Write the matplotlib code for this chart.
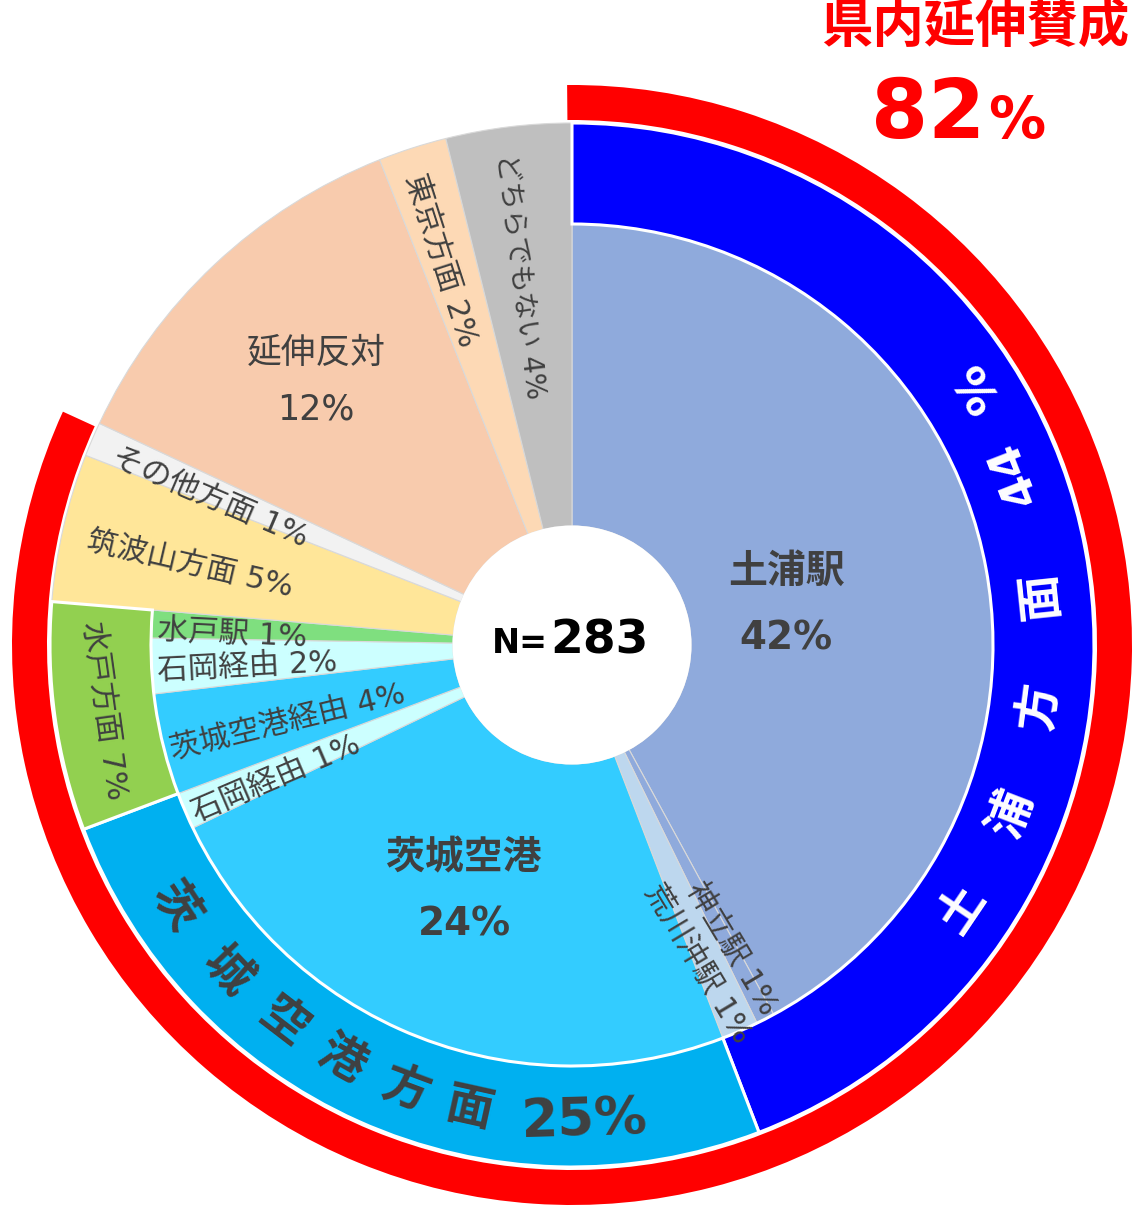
import matplotlib
matplotlib.use("Agg")
import matplotlib.pyplot as plt
from matplotlib.patches import Circle
import numpy as np

plt.rcParams['font.family'] = ['DejaVu Sans', 'Noto Sans CJK JP']

# ---------------- data ----------------
N_TOTAL = 283
inner_names = ["土浦駅", "神立駅", "荒川沖駅", "茨城空港", "石岡経由", "茨城空港経由",
               "石岡経由", "水戸駅", "筑波山方面", "その他方面", "延伸反対", "東京方面",
               "どちらでもない"]
inner_counts = [119, 2, 4, 67, 4, 11, 6, 3, 13, 3, 34, 6, 11]
inner_colors = ["#8FAADC", "#8FAADC", "#BDD7EE", "#33CCFF", "#CCFFFF", "#33CCFF",
                "#CCFFFF", "#7FDF7F", "#FFE699", "#F2F2F2", "#F8CBAD", "#FDD9B5",
                "#BFBFBF"]
inner_has_ring = [True, True, True, True, True, True, True, True,
                  False, False, False, False, False]

outer_names = ["土浦方面", "茨城空港方面", "水戸方面"]
outer_counts = [125, 71, 20]
outer_colors = ["#0000FF", "#00B0F0", "#92D050"]

support_label = "県内延伸賛成"
support_count = 232

# ---------------- figure ----------------
W, H = 1136, 1208
CX, CY = 572, 645
fig = plt.figure(figsize=(W / 100, H / 100), dpi=100)
ax = fig.add_axes([0, 0, 1, 1])

R_HOLE, R1, R2 = 119, 421, 522
R_RED_IN, R_RED_OUT = 525, 560
TXT = "#404040"

rest = N_TOTAL - sum(outer_counts)

# inner pie
wi, _ = ax.pie(inner_counts, radius=R2, startangle=90, counterclock=False,
               colors=inner_colors,
               wedgeprops=dict(width=R2 - R_HOLE, edgecolor="#D9D9D9", linewidth=0.8))
for w, ring in zip(wi, inner_has_ring):
    if ring:
        w.set_radius(R1)
        w.set_width(R1 - R_HOLE)

# outer ring
wo, _ = ax.pie(outer_counts + [rest], radius=R2, startangle=90, counterclock=False,
               colors=outer_colors + ["none"],
               wedgeprops=dict(width=R2 - R1, edgecolor="white", linewidth=2.2))
wo[-1].set_visible(False)

# red ring
wr, _ = ax.pie([support_count, N_TOTAL - support_count], radius=R_RED_OUT,
               startangle=90.5, counterclock=False, colors=["#FF0000", "none"],
               wedgeprops=dict(width=R_RED_OUT - R_RED_IN, linewidth=0))
wr[-1].set_visible(False)

ax.add_patch(Circle((0, 0), R_HOLE + 0.5, facecolor="white", edgecolor="none", zorder=3))

ax.set_xlim(-CX, W - CX)
ax.set_ylim(-(H - CY), CY)
ax.set_aspect("equal")
ax.axis("off")


def P(x, y):
    return x - CX, CY - y


def pct(c):
    return int(round(100.0 * c / N_TOTAL))


# --- big inner labels ---
ax.text(*P(786, 572), inner_names[0], fontsize=28, fontweight="bold", color=TXT,
        ha="center", va="center", zorder=5)
ax.text(*P(786, 638), f"{pct(inner_counts[0])}%", fontsize=28, fontweight="bold",
        color=TXT, ha="center", va="center", zorder=5)
ax.text(*P(464, 858), inner_names[3], fontsize=28, fontweight="bold", color=TXT,
        ha="center", va="center", zorder=5)
ax.text(*P(464, 925), f"{pct(inner_counts[3])}%", fontsize=28, fontweight="bold",
        color=TXT, ha="center", va="center", zorder=5)
ax.text(*P(316, 353), inner_names[10], fontsize=25, color=TXT,
        ha="center", va="center", zorder=5)
ax.text(*P(316, 410), f"{pct(inner_counts[10])}%", fontsize=25, color=TXT,
        ha="center", va="center", zorder=5)

# --- radial labels ---
radial_idx = [1, 2, 4, 5, 6, 7, 8, 9, 11, 12]
label_size = {12: 20}
right_offset = {1: 0.4, 2: -2.0}   # degrees
SHIFT = 7  # px, shift toward text "down"
for i in radial_idx:
    w = wi[i]
    phi = 0.5 * (w.theta1 + w.theta2)
    label = f"{inner_names[i]} {pct(inner_counts[i])}%"
    fs = label_size.get(i, 22)
    pr = np.radians(phi)
    if np.cos(pr) < 0:
        rot = phi - 180 if phi > 0 else phi + 180
        r_anchor = 415 if inner_has_ring[i] else 496
        x = r_anchor * np.cos(pr)
        y = r_anchor * np.sin(pr)
        d = np.radians(rot - 90)
        x += SHIFT * np.cos(d)
        y += SHIFT * np.sin(d)
        ax.text(x, y, label, fontsize=fs, color=TXT, rotation=rot,
                rotation_mode="anchor", ha="left", va="center", zorder=5)
    else:
        pr = np.radians(phi + right_offset.get(i, 0))
        r_c = 343
        ax.text(r_c * np.cos(pr), r_c * np.sin(pr), label, fontsize=fs, color=TXT,
                rotation=-59, rotation_mode="anchor", ha="center", va="center",
                zorder=5)

# 水戸方面 (tangential)
w = wo[2]
phi = 0.5 * (w.theta1 + w.theta2)
ax.text(473 * np.cos(np.radians(phi)), 473 * np.sin(np.radians(phi)),
        f"{outer_names[2]} {pct(outer_counts[2])}%", fontsize=22, color=TXT,
        rotation=phi + 90, rotation_mode="anchor", ha="center", va="center", zorder=5)

# 土浦方面 44% along arc
tsu_parts = list(outer_names[0]) + [f"{pct(outer_counts[0])}", "%"]
tsu_phis = [-34, -21, -7.5, 6, 21.3, 32.5]
tsu_r = [472, 472, 472, 472, 474, 482]
for s, ph, r in zip(tsu_parts, tsu_phis, tsu_r):
    ax.text(r * np.cos(np.radians(ph)), r * np.sin(np.radians(ph)), s,
            fontsize=34, fontweight="bold", color="white", rotation=ph + 90,
            rotation_mode="anchor", ha="center", va="center", zorder=5)

# 茨城空港方面 25% along arc
iba_parts = list(outer_names[1]) + [f"{pct(outer_counts[1])}%"]
iba_phis = [-146.5, -136.5, -127.5, -119, -110.5, -102.5, -88.5]
iba_sizes = [34, 34, 34, 34, 34, 34, 38]
for s, ph, fs in zip(iba_parts, iba_phis, iba_sizes):
    r = 476
    ax.text(r * np.cos(np.radians(ph)), r * np.sin(np.radians(ph)), s,
            fontsize=fs, fontweight="bold", color=TXT, rotation=ph + 90,
            rotation_mode="anchor", ha="center", va="center", zorder=5)

# center N
ax.text(*P(548, 653), "N=", fontsize=24, fontweight="bold", color="black",
        ha="right", va="baseline", zorder=6)
ax.text(*P(550, 653), f"{N_TOTAL}", fontsize=34, fontweight="bold", color="black",
        ha="left", va="baseline", zorder=6)

# top-right headline
ax.text(*P(975, 28), support_label, fontsize=37, fontweight="bold", color="#FF0000",
        ha="center", va="center", zorder=6)
ax.text(*P(985, 138), f"{pct(support_count)}", fontsize=59, fontweight="bold",
        color="#FF0000", ha="right", va="baseline", zorder=6)
ax.text(*P(988, 138), "%", fontsize=41, fontweight="bold", color="#FF0000",
        ha="left", va="baseline", zorder=6)

fig.savefig("out.png", dpi=100, facecolor="white")
